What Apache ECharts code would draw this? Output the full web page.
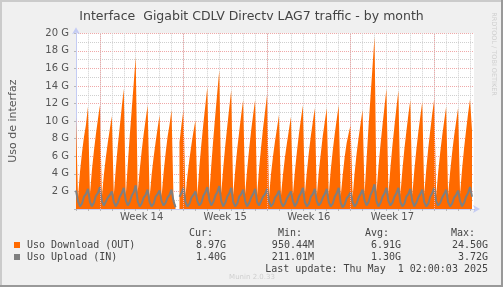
<!DOCTYPE html>
<html>
<head>
<meta charset="utf-8">
<script src="https://cdn.jsdelivr.net/npm/echarts@6/dist/echarts.min.js"></script>
<style>
html,body{margin:0;padding:0;background:#F0F0F0;}
#c{width:503px;height:287px;}
</style>
</head>
<body>
<div id="c"></div>
<script>
// ---- data ----
const HOURS_PER_POINT = 4;       // one sample every 4 hours, starting at the left edge
const AXIS_HOURS = 800;          // width of the time window in hours
const weekLabels = ['Week 14', 'Week 15', 'Week 16', 'Week 17'];
const weekBoundaryHours = [48, 216, 384, 552, 720];
const yTicks = [2, 4, 6, 8, 10, 12, 14, 16, 18, 20];

// Uso Download (OUT), in G
const download = [
  10.5,
  1.3, 4.2, 6.4, 8.2, 9.6, 11.65,
  1.7, 4.4, 6.6, 8.5, 10.2, 11.8,
  1.4, 3.9, 5.9, 7.6, 9.1, 10.6,
  1.6, 4.6, 7.2, 9.4, 11.6, 13.7,
  1.5, 5.0, 8.3, 11.3, 14.3, 17.3,
  1.9, 4.4, 6.6, 8.5, 10.2, 11.8,
  1.3, 3.9, 5.9, 7.6, 9.2, 10.7,
  1.4, 4.1, 6.3, 8.2, 9.6, 11.3,
  1.2, 0.4, null, 7.6, 9.6, 11.3,
  1.5, 3.8, 5.7, 7.3, 8.8, 10.1,
  1.6, 4.8, 7.4, 9.7, 11.8, 13.9,
  1.7, 5.0, 8.0, 10.7, 13.3, 15.8,
  1.8, 4.7, 7.2, 9.4, 11.5, 13.55,
  1.6, 4.4, 6.8, 8.8, 10.7, 12.4,
  1.7, 4.5, 6.8, 8.9, 10.7, 12.4,
  1.6, 4.6, 7.0, 9.2, 11.1, 13.0,
  1.4, 4.0, 6.0, 7.7, 9.2, 10.7,
  1.5, 3.9, 5.9, 7.5, 9.0, 10.5,
  1.6, 4.3, 6.5, 8.5, 10.2, 11.8,
  1.7, 4.2, 6.4, 8.3, 9.9, 11.5,
  1.5, 4.2, 6.3, 8.3, 9.9, 11.5,
  1.6, 4.4, 6.6, 8.5, 10.2, 11.8,
  1.4, 3.8, 5.9, 7.5, 8.6, 9.6,
  1.3, 4.1, 6.3, 8.1, 9.7, 11.3,
  1.7, 5.6, 9.4, 12.8, 16.2, 19.6,
  1.9, 4.8, 7.3, 9.5, 11.6, 13.7,
  1.7, 4.7, 7.2, 9.4, 11.5, 13.5,
  1.6, 4.4, 6.8, 8.8, 10.7, 12.4,
  1.6, 4.4, 6.7, 8.7, 10.5, 12.2,
  1.7, 4.5, 6.9, 8.9, 10.8, 12.5,
  1.5, 4.2, 6.4, 8.3, 10.0, 11.65,
  1.6, 4.2, 6.4, 8.3, 9.9, 11.5,
  1.7, 4.5, 6.9, 8.9, 10.8, 12.5,
  8.97
];

// Uso Upload (IN), in G
const upload = [
  2.1,
  0.9, 0.3, 0.6, 1.4, 1.7, 2.3,
  0.8, 0.3, 0.7, 1.5, 1.8, 2.5,
  0.9, 0.4, 0.6, 1.3, 1.6, 2.0,
  0.8, 0.3, 0.7, 1.4, 1.8, 2.4,
  1.0, 0.4, 0.8, 1.5, 1.9, 2.7,
  0.9, 0.3, 0.6, 1.3, 1.6, 2.2,
  0.8, 0.3, 0.6, 1.4, 1.7, 2.1,
  0.9, 0.4, 0.7, 1.3, 1.6, 2.2,
  0.9, 0.2, null, 1.4, 1.8, 2.4,
  0.8, 0.3, 0.6, 1.3, 1.6, 2.0,
  0.9, 0.4, 0.7, 1.5, 1.9, 2.5,
  1.0, 0.4, 0.8, 1.5, 1.9, 2.6,
  0.9, 0.3, 0.7, 1.4, 1.8, 2.4,
  0.8, 0.3, 0.6, 1.4, 1.7, 2.2,
  0.9, 0.3, 0.7, 1.3, 1.7, 2.3,
  0.8, 0.4, 0.6, 1.4, 1.7, 2.3,
  0.9, 0.3, 0.6, 1.3, 1.6, 2.1,
  0.8, 0.3, 0.6, 1.2, 1.6, 2.0,
  0.9, 0.3, 0.7, 1.4, 1.8, 2.4,
  0.8, 0.3, 0.6, 1.4, 1.7, 2.3,
  0.9, 0.4, 0.7, 1.3, 1.7, 2.3,
  0.8, 0.3, 0.6, 1.4, 1.8, 2.4,
  0.7, 0.2, 0.5, 1.2, 1.5, 1.9,
  0.8, 0.3, 0.6, 1.3, 1.7, 2.2,
  1.0, 0.4, 0.8, 1.6, 2.1, 2.8,
  0.9, 0.3, 0.7, 1.4, 1.8, 2.4,
  0.9, 0.4, 0.7, 1.4, 1.8, 2.4,
  0.8, 0.3, 0.6, 1.4, 1.7, 2.3,
  0.9, 0.3, 0.7, 1.3, 1.7, 2.2,
  0.8, 0.3, 0.6, 1.4, 1.8, 2.4,
  0.9, 0.4, 0.7, 1.3, 1.7, 2.2,
  0.8, 0.3, 0.6, 1.3, 1.6, 2.1,
  0.9, 0.3, 0.7, 1.4, 1.8, 2.5,
  1.40
];

const legendNames = ['Uso Download (OUT)', 'Uso Upload (IN)'];
const statHeaders = ['Cur:', 'Min:', 'Avg:', 'Max:'];
const downloadStats = ['8.97G', '950.44M', '6.91G', '24.50G'];
const uploadStats = ['1.40G', '211.01M', '1.30G', '3.72G'];
const lastUpdate = 'Last update: Thu May  1 02:00:03 2025';

// ---- build ----
const toPairs = arr => arr.map((v, i) => [i * HOURS_PER_POINT, v]);
const ORANGE = '#FF6A00';
const GRAY = '#7F7F7F';
const MONO = '"DejaVu Sans Mono", monospace';
const SANS = '"DejaVu Sans", sans-serif';

const colHeaderRight = [213, 302, 389, 475];
const colValueRight = [226, 314, 401, 488];

const graphics = [
  {type:'rect', shape:{x:0,y:0,width:503,height:2}, style:{fill:'#CBCBCB'}, silent:true},
  {type:'rect', shape:{x:0,y:0,width:2,height:287}, style:{fill:'#CBCBCB'}, silent:true},
  {type:'rect', shape:{x:501,y:0,width:2,height:287}, style:{fill:'#999999'}, silent:true},
  {type:'rect', shape:{x:0,y:285,width:503,height:2}, style:{fill:'#999999'}, silent:true},
  {type:'text', x:494, y:54, rotation:-Math.PI/2,
   style:{text:'RRDTOOL / TOBI OETIKER', fill:'#CFCFCF', font:'6.5px ' + SANS, align:'center', verticalAlign:'middle'}},
  {type:'rect', shape:{x:14,y:242,width:6,height:6}, style:{fill:ORANGE}},
  {type:'rect', shape:{x:14,y:254,width:6,height:6}, style:{fill:GRAY}},
  {type:'text', x:27, y:245, style:{text:legendNames[0], fill:'#444', font:'10px ' + MONO, verticalAlign:'middle'}},
  {type:'text', x:27, y:257, style:{text:legendNames[1], fill:'#444', font:'10px ' + MONO, verticalAlign:'middle'}},
  {type:'text', x:488, y:269, style:{text:lastUpdate, fill:'#444', font:'10px ' + MONO, align:'right', verticalAlign:'middle'}},
  {type:'text', x:252, y:277, style:{text:'Munin 2.0.33', fill:'#CFCFCF', font:'7px ' + SANS, align:'center', verticalAlign:'middle'}}
];
statHeaders.forEach((t, i) => graphics.push({type:'text', x:colHeaderRight[i], y:233,
  style:{text:t, fill:'#444', font:'10px ' + MONO, align:'right', verticalAlign:'middle'}}));
downloadStats.forEach((t, i) => graphics.push({type:'text', x:colValueRight[i], y:245,
  style:{text:t, fill:'#444', font:'10px ' + MONO, align:'right', verticalAlign:'middle'}}));
uploadStats.forEach((t, i) => graphics.push({type:'text', x:colValueRight[i], y:257,
  style:{text:t, fill:'#444', font:'10px ' + MONO, align:'right', verticalAlign:'middle'}}));

const chart = echarts.init(document.getElementById('c'), null, {renderer:'canvas'});
chart.setOption({
  backgroundColor: '#F0F0F0',
  animation: false,
  title: {
    text: 'Interface  Gigabit CDLV Directv LAG7 traffic - by month',
    left: 'center', top: 5,
    textStyle: {fontFamily: SANS, fontSize: 12.5, fontWeight: 'normal', color: '#444'}
  },
  grid: {left: 74, right: 29, top: 33.3, bottom: 78, show: true, backgroundColor: '#FFFFFF', borderWidth: 0},
  xAxis: [
    {
      type: 'value', min: 0, max: AXIS_HOURS, interval: 24,
      axisLine: {show: true, lineStyle: {color: '#C4CCF4', width: 1}, symbol: ['none', 'arrow'], symbolSize: [6, 7], symbolOffset: [0, 6]},
      axisTick: {show: true, length: 2, lineStyle: {color: '#B8B8B8'}},
      axisLabel: {show: false},
      splitLine: {show: true, showMaxLine: false, showMinLine: false, lineStyle: {color: '#CFCFCF', type: [1, 1], width: 1}}
    },
    {
      type: 'value', min: 0, max: AXIS_HOURS, interval: 12, position: 'bottom',
      axisLine: {show: false}, axisTick: {show: false}, splitLine: {show: false},
      axisLabel: {
        show: true, margin: 3, color: '#555', fontFamily: SANS, fontSize: 10,
        formatter: v => {
          const k = weekBoundaryHours.findIndex((h, i) => i < weekLabels.length && v === h + 84);
          return k >= 0 ? weekLabels[k] : '';
        }
      }
    }
  ],
  yAxis: {
    type: 'value', min: 0, max: 20, interval: 2,
    name: 'Uso de interfaz', nameLocation: 'middle', nameGap: 57, nameRotate: 90,
    nameTextStyle: {fontFamily: SANS, fontSize: 11, color: '#555'},
    axisLine: {show: true, lineStyle: {color: '#C4CCF4'}, symbol: ['none', 'arrow'], symbolSize: [6, 7], symbolOffset: [0, 6]},
    axisTick: {show: true, length: 2, lineStyle: {color: '#B8B8B8'}},
    axisLabel: {
      margin: 7, color: '#555', fontFamily: SANS, fontSize: 10,
      formatter: v => (yTicks.indexOf(v) >= 0 ? v + ' G' : '')
    },
    splitLine: {show: true, lineStyle: {color: '#F0A8A8', type: [1, 1], width: 1}},
    minorTick: {show: false, splitNumber: 2},
    minorSplitLine: {show: true, lineStyle: {color: '#CFCFCF', type: [1, 1], width: 1}}
  },
  series: [
    {
      type: 'line', data: [], z: 1, silent: true,
      markLine: {
        silent: true, symbol: ['none', 'none'], label: {show: false},
        lineStyle: {color: '#F0A8A8', type: [1, 1], width: 1},
        data: weekBoundaryHours.map(h => ({xAxis: h}))
      }
    },
    {
      name: legendNames[0], type: 'line', data: toPairs(download), z: 3,
      showSymbol: false, connectNulls: false,
      lineStyle: {width: 0, color: ORANGE}, itemStyle: {color: ORANGE},
      areaStyle: {color: ORANGE, opacity: 1}
    },
    {
      name: legendNames[1], type: 'line', data: toPairs(upload), z: 4,
      showSymbol: false, connectNulls: false,
      lineStyle: {width: 2, color: GRAY}, itemStyle: {color: GRAY}
    }
  ],
  graphic: graphics
});
</script>
</body>
</html>
